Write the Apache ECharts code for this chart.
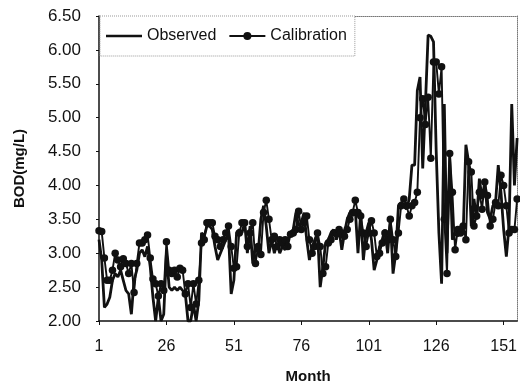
<!DOCTYPE html>
<html>
<head>
<meta charset="utf-8">
<script src="https://cdn.jsdelivr.net/npm/echarts@6/dist/echarts.min.js"></script>
<style>
  html, body { margin: 0; padding: 0; background: #fff; }
  #main { width: 520px; height: 389px; }
</style>
</head>
<body>
<div id="main"></div>
<script>
// month index 1..156
var months = [];
for (var i = 1; i <= 156; i++) months.push(String(i));

var observed = [
  3.2, 2.9, 2.2, 2.25, 2.35, 2.6, 2.7, 2.65, 2.75, 2.6,
  2.45, 2.4, 2.1, 2.6, 2.75, 3.0, 3.05, 2.95, 3.1, 2.8,
  2.35, 2.0, 2.35, 2.0, 2.1, 3.0, 2.5, 2.45, 2.5, 2.45,
  2.5, 2.45, 2.4, 2.0, 2.0, 2.25, 2.0, 2.3, 3.3, 3.25,
  3.4, 3.4, 3.35, 3.1, 2.9, 3.0, 3.1, 3.2, 3.3, 2.4,
  2.6, 3.3, 3.35, 3.3, 3.45, 3.0, 3.4, 2.85, 3.1, 3.0,
  3.5, 3.7, 3.4, 3.0, 3.2, 3.0, 3.15, 3.0, 3.1, 3.05,
  3.2, 3.3, 3.35, 3.6, 3.4, 3.45, 3.6, 3.2, 2.9, 3.1,
  3.2, 3.3, 2.5, 2.8, 3.15, 3.2, 3.3, 3.35, 3.2, 3.35,
  3.05, 3.3, 3.5, 3.6, 3.55, 3.65, 3.0, 3.6, 2.9, 3.3,
  3.45, 3.2, 2.75, 2.9, 3.1, 3.2, 3.35, 3.0, 3.5, 2.7,
  3.0, 3.7, 3.75, 3.7, 3.65, 3.8, 4.3, 4.3, 5.4, 5.6,
  4.25, 5.2, 6.22, 6.2, 6.12, 4.5, 3.3, 2.55, 5.2, 3.0,
  4.45, 3.2, 3.3, 3.25, 3.4, 3.3, 4.6, 4.35, 3.4, 3.8,
  3.5, 4.1, 3.8, 4.05, 3.6, 3.5, 3.7, 3.75, 4.3, 3.9,
  3.35, 2.95, 3.4, 5.2, 4.0, 4.7
];

var calibration = [
  3.33, 3.32, 2.93, 2.6, 2.6, 2.75, 3.0, 2.9, 2.8, 2.92,
  2.85, 2.7, 2.85, 2.42, 2.85, 3.15, 3.15, 3.2, 3.27, 2.93,
  2.62, 2.55, 2.37, 2.55, 2.45, 3.17, 2.75, 2.7, 2.75, 2.65,
  2.78, 2.75, 2.4, 2.55, 2.2, 2.55, 2.25, 2.6, 3.15, 3.2,
  3.45, 3.45, 3.45, 3.25, 3.2, 3.1, 3.2, 3.3, 3.4, 3.1,
  2.78, 2.8, 3.3, 3.45, 3.45, 3.1, 3.3, 3.45, 2.85, 3.1,
  2.98, 3.6, 3.78, 3.5, 3.2, 3.25, 3.1, 3.2, 3.15, 3.2,
  3.1, 3.28, 3.3, 3.35, 3.62, 3.35, 3.45, 3.55, 3.2, 3.0,
  3.1, 3.3, 3.1, 2.7, 2.8, 3.15, 3.2, 3.3, 3.3, 3.35,
  3.3, 3.25, 3.35, 3.5, 3.6, 3.78, 3.6, 3.55, 3.3, 3.1,
  3.3, 3.48, 3.3, 2.95, 3.0, 3.15, 3.3, 3.2, 3.5, 3.2,
  2.95, 3.3, 3.7, 3.8, 3.7, 3.55, 3.7, 3.75, 3.9, 5.0,
  5.28, 4.9, 5.3, 4.4, 5.82, 5.82, 5.35, 5.75, 3.5, 2.7,
  4.47, 3.9, 3.05, 3.35, 3.3, 3.4, 3.2, 4.35, 4.2, 3.4,
  3.55, 3.9, 3.65, 4.05, 3.85, 3.4, 3.5, 3.75, 3.7, 4.15,
  4.0, 3.7, 3.3, 3.35, 3.35, 3.8
];

var chartDom = document.getElementById('main');
var myChart = echarts.init(chartDom);
var option;

var fontFamily = '"Liberation Sans", Arial, Helvetica, sans-serif';

option = {
    animation: false,
    textStyle: { fontFamily: fontFamily, color: '#111' },
    grid: {
        left: 99,
        right: 1,
        top: 16,
        bottom: 68
    },
    legend: {
        left: 100,
        top: 16,
        itemWidth: 36,
        itemHeight: 10,
        itemGap: 12,
        padding: [12, 8, 12, 6],
        backgroundColor: '#fff',
        borderColor: '#999',
        borderWidth: 1,
        borderType: 'dotted',
        textStyle: { fontSize: 16, color: '#111', fontFamily: fontFamily },
        data: [
            { name: 'Observed', icon: 'path://M0,4 L40,4 L40,7 L0,7 Z' },
            { name: 'Calibration' }
        ]
    },
    xAxis: [
        {
            type: 'category',
            data: months,
            boundaryGap: false,
            name: 'Month',
            nameLocation: 'middle',
            nameGap: 48,
            nameTextStyle: { fontSize: 15, fontWeight: 'bold', color: '#111' },
            axisLine: { lineStyle: { color: '#111', width: 1.5 } },
            axisTick: { interval: 24, length: 4, lineStyle: { color: '#111' } },
            axisLabel: { interval: 24, fontSize: 16, margin: 18, color: '#111' },
            splitLine: { show: false }
        },
        {
            type: 'category',
            data: months,
            position: 'top',
            boundaryGap: false,
            axisLine: { lineStyle: { color: '#777', width: 1, type: 'dotted' } },
            axisTick: { show: false },
            axisLabel: { show: false }
        }
    ],
    yAxis: [
        {
            type: 'value',
            min: 2,
            max: 6.5,
            interval: 0.5,
            name: 'BOD(mg/L)',
            nameLocation: 'middle',
            nameGap: 72,
            nameTextStyle: { fontSize: 15, fontWeight: 'bold', color: '#111' },
            axisLine: { show: true, lineStyle: { color: '#111', width: 1.5 } },
            axisTick: { show: true, length: 3, lineStyle: { color: '#111' } },
            axisLabel: {
                fontSize: 17,
                margin: 18,
                color: '#111',
                formatter: function (v) { return v.toFixed(2); }
            },
            splitLine: { show: false }
        },
        {
            type: 'value',
            min: 2,
            max: 6.5,
            interval: 0.5,
            position: 'right',
            axisLine: { show: true, lineStyle: { color: '#777', width: 1, type: 'dotted' } },
            axisTick: { show: false },
            axisLabel: { show: false },
            splitLine: { show: false }
        }
    ],
    series: [
        {
            name: 'Observed',
            type: 'line',
            data: observed,
            showSymbol: false,
            symbol: 'none',
            lineStyle: { color: '#111', width: 2.8 },
            itemStyle: { color: '#111' },
            z: 3
        },
        {
            name: 'Calibration',
            type: 'line',
            data: calibration,
            symbol: 'circle',
            symbolSize: 7.5,
            showAllSymbol: true,
            lineStyle: { color: '#111', width: 1.9 },
            itemStyle: { color: '#111' },
            z: 2
        }
    ]
};

option && myChart.setOption(option);
</script>
</body>
</html>
